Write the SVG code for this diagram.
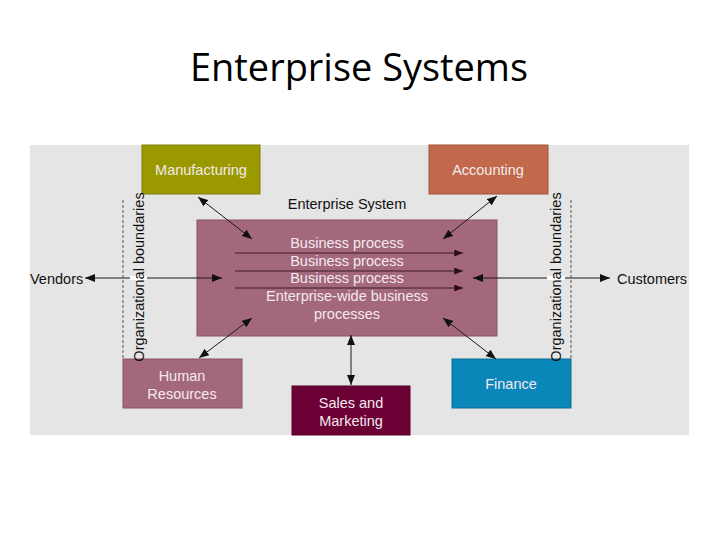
<svg xmlns="http://www.w3.org/2000/svg" width="720" height="540" viewBox="0 0 720 540">
<style>
.t{font-family:"Liberation Sans",Arial,sans-serif;font-size:14.5px;}
.dark{fill:#111;}
.lt{fill:#f4e9ee;}
.box{stroke-width:1;}
.ln{stroke:#1a1a1a;stroke-width:1;fill:none;}
.inner{stroke:#3a1826;stroke-width:1;fill:none;}
.dash{stroke:#555;stroke-width:1;stroke-dasharray:3,2;fill:none;}
</style>
<defs>
<marker id="ah" viewBox="0 0 10 8" refX="10" refY="4" markerWidth="10" markerHeight="8" markerUnits="userSpaceOnUse" orient="auto-start-reverse">
<path d="M0,0 L10,4 L0,8 Z" fill="#111"/>
</marker>
<marker id="ah2" viewBox="0 0 10 8" refX="10" refY="4" markerWidth="11" markerHeight="7" markerUnits="userSpaceOnUse" orient="auto-start-reverse">
<path d="M0,0 L10,4 L0,8 Z" fill="#2a0f1a"/>
</marker>
</defs>
<rect width="720" height="540" fill="#ffffff"/>
<text x="190" y="81" font-family="'Open Sans','Noto Sans',sans-serif" font-size="38" fill="#000" textLength="338" lengthAdjust="spacingAndGlyphs">Enterprise Systems</text>
<rect id="panel" x="30" y="145" width="659" height="290" fill="#e5e5e5"/>

<g id="boundaries">
<line class="dash" x1="123" y1="200" x2="123" y2="358"/>
<line class="dash" x1="571" y1="200" x2="571" y2="358"/>
</g>

<g id="enterprise-system">
<text class="t dark" x="347" y="209" text-anchor="middle">Enterprise System</text>
<rect class="box" x="197" y="220" width="300" height="116" fill="#a3687b" stroke="#8a5366"/>
<line class="inner" x1="235" y1="253" x2="463" y2="253" marker-end="url(#ah2)"/>
<line class="inner" x1="235" y1="271" x2="463" y2="271" marker-end="url(#ah2)"/>
<line class="inner" x1="235" y1="288" x2="463" y2="288" marker-end="url(#ah2)"/>
<text class="t lt" x="347" y="248" text-anchor="middle">Business process</text>
<text class="t lt" x="347" y="266" text-anchor="middle">Business process</text>
<text class="t lt" x="347" y="283" text-anchor="middle">Business process</text>
<text class="t lt" x="347" y="301" text-anchor="middle">Enterprise-wide business</text>
<text class="t lt" x="347" y="319" text-anchor="middle">processes</text>
</g>

<g id="manufacturing">
<rect class="box" x="142" y="145" width="118" height="49" fill="#9a9a00" stroke="#7f7f00"/>
<text class="t lt" x="201" y="175" text-anchor="middle">Manufacturing</text>
</g>
<g id="accounting">
<rect class="box" x="429" y="145" width="119" height="49" fill="#c1694a" stroke="#a4553a"/>
<text class="t lt" x="488" y="175" text-anchor="middle">Accounting</text>
</g>
<g id="human-resources">
<rect class="box" x="123" y="359" width="119" height="49" fill="#a3687b" stroke="#8a5366"/>
<text class="t lt" x="182" y="381" text-anchor="middle">Human</text>
<text class="t lt" x="182" y="399" text-anchor="middle">Resources</text>
</g>
<g id="sales-marketing">
<rect class="box" x="292" y="386" width="118" height="49" fill="#6b0035" stroke="#55002a"/>
<text class="t lt" x="351" y="408" text-anchor="middle">Sales and</text>
<text class="t lt" x="351" y="426" text-anchor="middle">Marketing</text>
</g>
<g id="finance">
<rect class="box" x="452" y="359" width="119" height="49" fill="#0a87b9" stroke="#086b93"/>
<text class="t lt" x="511" y="389" text-anchor="middle">Finance</text>
</g>

<g id="connectors">
<line class="ln" x1="85" y1="278" x2="222" y2="278" marker-start="url(#ah)" marker-end="url(#ah)"/>
<line class="ln" x1="473" y1="278" x2="610" y2="278" marker-start="url(#ah)" marker-end="url(#ah)"/>
<rect x="130" y="276" width="17" height="4" fill="#ffffff"/>
<rect x="547" y="276" width="18" height="4" fill="#ffffff"/>
<line class="ln" x1="198" y1="197" x2="252" y2="239" marker-start="url(#ah)" marker-end="url(#ah)"/>
<line class="ln" x1="497" y1="196" x2="443" y2="239" marker-start="url(#ah)" marker-end="url(#ah)"/>
<line class="ln" x1="199" y1="358" x2="252" y2="318" marker-start="url(#ah)" marker-end="url(#ah)"/>
<line class="ln" x1="496" y1="359" x2="443" y2="318" marker-start="url(#ah)" marker-end="url(#ah)"/>
<line class="ln" x1="351" y1="335" x2="351" y2="385" marker-start="url(#ah)" marker-end="url(#ah)"/>
</g>

<g id="vendors">
<text class="t dark" x="30" y="284">Vendors</text>
</g>
<g id="customers">
<text class="t dark" x="617" y="284">Customers</text>
</g>
<g id="labels">
<text class="t dark" text-anchor="middle" transform="translate(144,277) rotate(-90)">Organizational boundaries</text>
<text class="t dark" text-anchor="middle" transform="translate(561,277) rotate(-90)">Organizational boundaries</text>
</g>
</svg>
